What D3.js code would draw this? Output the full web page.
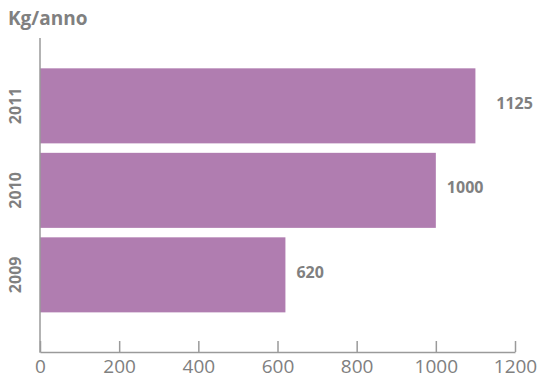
<!DOCTYPE html>
<html><head><meta charset="utf-8">
<script src="https://cdn.jsdelivr.net/npm/d3@7"></script>
<style>
html,body{margin:0;padding:0;background:#fff;}
svg{display:block;font-family:"Open Sans",sans-serif;}
</style></head>
<body>
<svg id="c" width="538" height="378"></svg>
<script>
const years = ["2011", "2010", "2009"];
const barValues = [1100, 1000, 620];
const labelValues = [1125, 1000, 620];
const labelTexts = ["1125", "1000", "620"];
const xTicks = [0, 200, 400, 600, 800, 1000, 1200];
const unitLabel = "Kg/anno";

const svg = d3.select("#c");
const gray = "#808080";
const axisColor = "#9a9a9a";
const barColor = "#b07db0";

const x = d3.scaleLinear().domain([0, 1200]).range([40, 515]);
const y = d3.scaleBand().domain(years).range([63.6, 317.1]).paddingInner(0.112).paddingOuter(0.056);

svg.selectAll("rect.bar").data(years).join("rect")
  .attr("class", "bar")
  .attr("x", x(0))
  .attr("y", d => y(d))
  .attr("width", (d, i) => x(barValues[i]) - x(0))
  .attr("height", y.bandwidth())
  .attr("fill", barColor);

// x axis
const xAxis = d3.axisBottom(x).tickValues(xTicks).tickFormat(d3.format("d"))
  .tickSize(-11).tickPadding(21).tickSizeOuter(0);
const gx = svg.append("g").attr("transform", "translate(0,352)").call(xAxis);
gx.select(".domain").attr("stroke", axisColor).attr("stroke-width", 1.5);
gx.selectAll(".tick line").attr("stroke", axisColor).attr("stroke-width", 1.5);
gx.selectAll(".tick text").attr("fill", gray).attr("font-size", 19)
  .attr("font-family", "Open Sans").attr("dy", "0");

// y axis line
svg.append("line").attr("x1", 40).attr("x2", 40).attr("y1", 38).attr("y2", 352.7)
  .attr("stroke", axisColor).attr("stroke-width", 1.5);

// year labels
svg.selectAll("text.year").data(years).join("text")
  .attr("class", "year")
  .attr("transform", d => `translate(21,${y(d) + y.bandwidth() / 2}) rotate(-90)`)
  .attr("text-anchor", "middle")
  .attr("fill", gray).attr("font-weight", "bold").attr("font-size", 16)
  .text(d => d);

// value labels
svg.selectAll("text.val").data(years).join("text")
  .attr("class", "val")
  .attr("x", (d, i) => x(labelValues[i]) + 11)
  .attr("y", d => y(d) + y.bandwidth() / 2 + 3)
  .attr("fill", gray).attr("font-weight", "bold").attr("font-size", 16)
  .text((d, i) => labelTexts[i]);

// unit label
svg.append("text").attr("x", 8).attr("y", 25)
  .attr("fill", gray).attr("font-weight", "bold").attr("font-size", 19)
  .text(unitLabel);
</script>
</body></html>
